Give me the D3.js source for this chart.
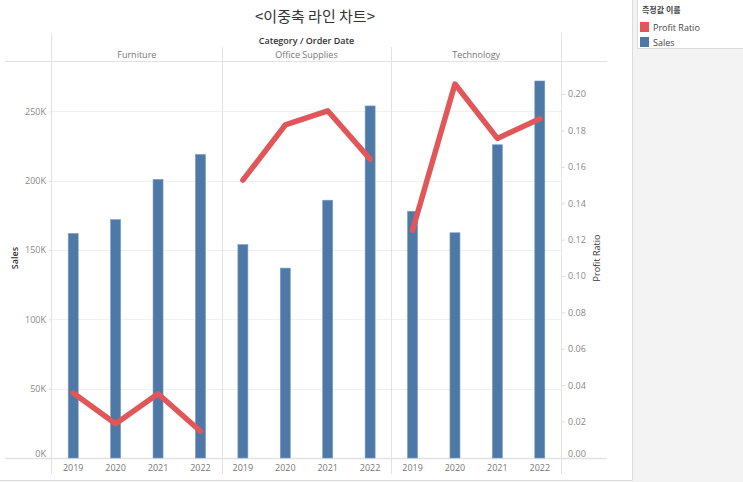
<!DOCTYPE html>
<html><head><meta charset="utf-8">
<script src="https://cdn.jsdelivr.net/npm/d3@7"></script>
<style>
html,body{margin:0;padding:0;background:#f3f3f3;}
svg{display:block;font-family:"Open Sans","Noto Sans CJK KR",sans-serif;}
</style></head><body>
<svg id="c" width="743" height="482"></svg>
<script>
const categories = ["Furniture", "Office Supplies", "Technology"];
const years = ["2019", "2020", "2021", "2022"];
const salesFurniture = [162000, 172000, 201000, 219000];
const salesOffice = [154000, 137000, 186000, 254000];
const salesTech = [178000, 162500, 226000, 272000];
const profitFurniture = [0.0357, 0.0188, 0.0353, 0.0147];
const profitOffice = [0.1527, 0.1830, 0.1908, 0.1642];
const profitTech = [0.1252, 0.2055, 0.1756, 0.1864];
const salesTicks = [0, 50000, 100000, 150000, 200000, 250000];
const profitTicks = [0, 0.02, 0.04, 0.06, 0.08, 0.10, 0.12, 0.14, 0.16, 0.18, 0.20];
const legendItems = ["Profit Ratio", "Sales"];

(function(){
const salesBy = [salesFurniture, salesOffice, salesTech];
const profitBy = [profitFurniture, profitOffice, profitTech];

const svg = d3.select("#c");
const pL = 52, pR = 561, pT = 62, pB = 458;
const barColor = "#4e79a7", lineColor = "#e15759";

// backgrounds
svg.append("rect").attr("x",0).attr("y",0).attr("width",632).attr("height",480).attr("fill","#fff");
svg.append("line").attr("x1",632.5).attr("x2",632.5).attr("y1",0).attr("y2",480.5).attr("stroke","#dcdcdc");
svg.append("line").attr("x1",0).attr("x2",632.5).attr("y1",480.5).attr("y2",480.5).attr("stroke","#dcdcdc");

// title
svg.append("text").attr("x",315).attr("y",22).attr("text-anchor","middle")
  .attr("font-size",15).attr("fill","#333").attr("font-family","'Noto Sans CJK KR',sans-serif")
  .text("<이중축 라인 차트>");

const ySales = d3.scaleLinear().domain([0, 285700]).range([pB, pT]);
const yProfit = d3.scaleLinear().domain([0, 0.2176]).range([pB, pT]);
const xPane = d3.scaleBand().domain(categories).range([pL, pR]);
const paneW = xPane.bandwidth();

// gridlines
svg.append("g").selectAll("line").data(salesTicks.filter(d=>d>0)).join("line")
  .attr("x1",pL).attr("x2",pR)
  .attr("y1",d=>Math.round(ySales(d))+0.5).attr("y2",d=>Math.round(ySales(d))+0.5)
  .attr("stroke","#f0f0f0");

// structure lines
const lc = "#e2e2e2";
svg.append("line").attr("x1",5).attr("x2",607).attr("y1",61.5).attr("y2",61.5).attr("stroke",lc);
svg.append("line").attr("x1",5).attr("x2",607).attr("y1",458.5).attr("y2",458.5).attr("stroke",lc).attr("stroke-width",1.5);
svg.append("line").attr("x1",pL-0.5).attr("x2",pL-0.5).attr("y1",33).attr("y2",474).attr("stroke",lc);
svg.append("line").attr("x1",pR+0.5).attr("x2",pR+0.5).attr("y1",33).attr("y2",474).attr("stroke",lc);
categories.slice(1).forEach(c=>{
  const x = Math.round(xPane(c))+0.5;
  svg.append("line").attr("x1",x).attr("x2",x).attr("y1",47).attr("y2",474).attr("stroke",lc);
});

// headers
svg.append("text").attr("x",(pL+pR)/2).attr("y",44).attr("text-anchor","middle")
  .attr("font-size",9).attr("font-weight",600).attr("fill","#333").text("Category / Order Date");
svg.append("g").selectAll("text").data(categories).join("text")
  .attr("x",d=>xPane(d)+paneW/2).attr("y",58).attr("text-anchor","middle")
  .attr("font-size",9).attr("fill","#777").text(d=>d);

// panes
categories.forEach((cat, ci)=>{
  const x0 = xPane(cat);
  const xYear = d3.scaleBand().domain(years).range([x0, x0+paneW]);
  const g = svg.append("g");
  g.selectAll("rect").data(years).join("rect")
    .attr("x",d=>xYear(d)+xYear.bandwidth()/2-5)
    .attr("width",10)
    .attr("y",(d,i)=>ySales(salesBy[ci][i]))
    .attr("height",(d,i)=>pB-ySales(salesBy[ci][i]))
    .attr("fill",barColor).attr("stroke","#7a9cc2").attr("stroke-width",0.6);
  const line = d3.line().x((d,i)=>xYear(years[i])+xYear.bandwidth()/2).y(d=>yProfit(d));
  g.append("path").datum(profitBy[ci]).attr("d",line).attr("fill","none")
    .attr("stroke",lineColor).attr("stroke-width",5.5)
    .attr("stroke-linecap","round").attr("stroke-linejoin","round");
  g.selectAll("text.yr").data(years).join("text").attr("class","yr")
    .attr("x",d=>xYear(d)+xYear.bandwidth()/2).attr("y",471)
    .attr("text-anchor","middle").attr("font-size",9).attr("fill","#777").text(d=>d);
});

// left axis
const fmtK = d=>d3.format(".0f")(d/1000)+"K";
const la = svg.append("g").attr("transform",`translate(${pL},0)`)
  .call(d3.axisLeft(ySales).tickValues(salesTicks).tickFormat(fmtK).tickSize(3).tickPadding(3));
la.select(".domain").remove();
la.selectAll(".tick line").attr("stroke","#ddd");
la.selectAll(".tick text").attr("fill","#888").attr("font-size",9).attr("font-family","'Open Sans',sans-serif")
  .attr("dy",d=>d===0?"-0.2em":"0.32em");
svg.append("text").attr("transform","translate(18,258) rotate(-90)").attr("text-anchor","middle")
  .attr("font-size",9).attr("font-weight",600).attr("fill","#333").text("Sales");

// right axis
const ra = svg.append("g").attr("transform",`translate(${pR+1},0)`)
  .call(d3.axisRight(yProfit).tickValues(profitTicks).tickFormat(d3.format(".2f")).tickSize(3).tickPadding(3));
ra.select(".domain").remove();
ra.selectAll(".tick line").attr("stroke","#ddd");
ra.selectAll(".tick text").attr("fill","#888").attr("font-size",9).attr("font-family","'Open Sans',sans-serif")
  .attr("dy",d=>d===0?"-0.2em":"0.32em");
svg.append("text").attr("transform","translate(600,258) rotate(-90)").attr("text-anchor","middle")
  .attr("font-size",9).attr("fill","#333").text("Profit Ratio");

// legend
const lg = svg.append("g");
lg.append("rect").attr("x",637.5).attr("y",-1).attr("width",110).attr("height",49.5).attr("fill","#fff").attr("stroke","#dcdcdc");
lg.append("text").attr("x",642).attr("y",13).attr("font-size",8).attr("font-weight","bold").attr("fill","#444")
  .attr("font-family","'Noto Sans CJK KR',sans-serif").text("측정값 이름");
const legendColors = [lineColor, barColor];
lg.selectAll("rect.sw").data(legendItems).join("rect").attr("class","sw")
  .attr("x",640).attr("y",(d,i)=>22+i*15).attr("width",9).attr("height",10).attr("fill",(d,i)=>legendColors[i]);
lg.selectAll("text.it").data(legendItems).join("text").attr("class","it")
  .attr("x",653).attr("y",(d,i)=>30.5+i*15).attr("font-size",9).attr("fill","#444").text(d=>d);
})();
</script>
</body></html>
